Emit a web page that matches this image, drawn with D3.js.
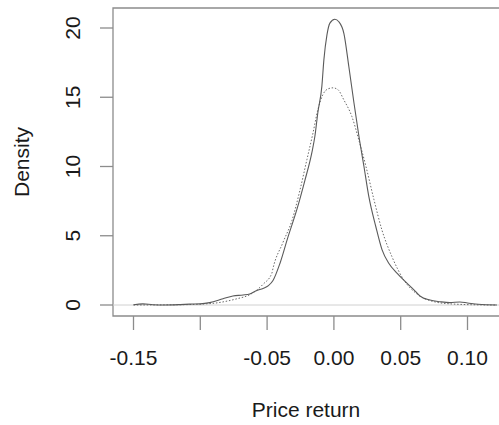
<!DOCTYPE html>
<html>
<head>
<meta charset="utf-8">
<script src="https://cdn.jsdelivr.net/npm/d3@7"></script>
<style>
	body { margin: 0; background: #fff; }
	text { font-family: "Liberation Sans", Arial, sans-serif; fill: #1a1a1a; }
</style>
</head>
<body>
<script>
// empirical density of price returns (solid)
var empX = [-0.150, -0.143, -0.1355, -0.1265, -0.115, -0.108, -0.100, -0.093, -0.083, -0.0756, -0.068, -0.063, -0.0576, -0.053, -0.049, -0.0457, -0.0404, -0.0344, -0.0277, -0.0217, -0.0165, -0.0142, -0.012, -0.009, -0.0075, -0.0052, -0.003, 0.0007, 0.0037, 0.0075, 0.0112, 0.015, 0.0187, 0.0225, 0.0262, 0.0314, 0.036, 0.0412, 0.0472, 0.0539, 0.0599, 0.0644, 0.0719, 0.0793, 0.0868, 0.0943, 0.100, 0.108, 0.122];
var empY = [0.02, 0.08, 0.02, 0.0, 0.03, 0.06, 0.08, 0.17, 0.45, 0.65, 0.72, 0.8, 1.05, 1.2, 1.4, 1.75, 3.0, 4.9, 6.9, 9.0, 11.0, 12.2, 13.9, 15.8, 17.7, 19.5, 20.35, 20.63, 20.45, 19.6, 17.2, 14.6, 12.2, 10.0, 7.8, 5.65, 4.0, 3.0, 2.3, 1.65, 1.1, 0.65, 0.36, 0.24, 0.17, 0.22, 0.15, 0.05, 0.0];

// normal reference density (dotted)
var normX = [-0.150, -0.115, -0.0906, -0.0816, -0.0726, -0.0629, -0.053, -0.0464, -0.0457, -0.0382, -0.0314, -0.0254, -0.0202, -0.0157, -0.012, -0.0082, -0.0045, -0.0007, 0.003, 0.0075, 0.0135, 0.0187, 0.024, 0.030, 0.036, 0.0434, 0.0524, 0.0621, 0.0749, 0.0891, 0.109, 0.122];
var normY = [0.0, 0.02, 0.12, 0.25, 0.45, 0.75, 1.5, 2.3, 2.6, 4.5, 6.1, 8.3, 10.5, 12.4, 14.1, 15.2, 15.6, 15.68, 15.55, 14.8, 13.6, 11.9, 10.0, 7.6, 5.4, 3.5, 1.8, 0.8, 0.24, 0.07, 0.01, 0.0];

var xTicks = [-0.15, -0.10, -0.05, 0.00, 0.05, 0.10];
var xTickLabels = ["-0.15", "", "-0.05", "0.00", "0.05", "0.10"];
var yTicks = [0, 5, 10, 15, 20];

var W = 499, H = 425;
var box = {left: 113, top: 8, right: 498, bottom: 316};

var svg = d3.select("body").append("svg")
	.attr("width", W)
	.attr("height", H);

// x: 0.05 -> ~66.8px, 0 at 334
var x = d3.scaleLinear()
	.domain([-0.15, 0.10])
	.range([133.5, 467.5]);
var y = d3.scaleLinear()
	.domain([0, 20])
	.range([305, 28]);

var axisCol = "#8c8c8c";

// frame (right side falls off the picture)
svg.append("path")
	.attr("d", "M" + W + "," + box.top + "H" + box.left + "V" + box.bottom + "H" + W)
	.attr("fill", "none")
	.attr("stroke", axisCol)
	.attr("stroke-width", 1.3);

// horizontal line at 0
svg.append("line")
	.attr("x1", box.left).attr("x2", W)
	.attr("y1", y(0)).attr("y2", y(0))
	.attr("stroke", "#d0d0d0")
	.attr("stroke-width", 1);

// y axis
var gy = svg.append("g");
gy.selectAll("line").data(yTicks).enter().append("line")
	.attr("x1", 100).attr("x2", box.left)
	.attr("y1", function(d){ return y(d); })
	.attr("y2", function(d){ return y(d); })
	.attr("stroke", axisCol).attr("stroke-width", 1.3);
gy.selectAll("text").data(yTicks).enter().append("text")
	.attr("transform", function(d){ return "translate(80," + y(d) + ")rotate(-90)"; })
	.attr("text-anchor", "middle")
	.style("font-size", "21px")
	.text(function(d){ return d; });

// x axis
var gx = svg.append("g");
gx.selectAll("line").data(xTicks).enter().append("line")
	.attr("x1", function(d){ return x(d); })
	.attr("x2", function(d){ return x(d); })
	.attr("y1", box.bottom).attr("y2", 330)
	.attr("stroke", axisCol).attr("stroke-width", 1.3);
gx.selectAll("text").data(xTicks).enter().append("text")
	.attr("x", function(d){ return x(d); })
	.attr("y", 365)
	.attr("text-anchor", "middle")
	.style("font-size", "21px")
	.text(function(d, i){ return xTickLabels[i]; });

// axis titles
svg.append("text")
	.attr("transform", "translate(29," + ((box.top + box.bottom) / 2) + ")rotate(-90)")
	.attr("text-anchor", "middle")
	.style("font-size", "21px")
	.text("Density");
svg.append("text")
	.attr("x", 306)
	.attr("y", 417)
	.attr("text-anchor", "middle")
	.style("font-size", "21px")
	.text("Price return");

var line = d3.line()
	.curve(d3.curveMonotoneX)
	.x(function(d){ return x(d[0]); })
	.y(function(d){ return y(d[1]); });

svg.append("path")
	.datum(d3.zip(normX, normY))
	.attr("d", line)
	.attr("fill", "none")
	.attr("stroke", "#6a6a6a")
	.attr("stroke-width", 1)
	.attr("stroke-dasharray", "1.5,1.8");

svg.append("path")
	.datum(d3.zip(empX, empY))
	.attr("d", line)
	.attr("fill", "none")
	.attr("stroke", "#5a5a5a")
	.attr("stroke-width", 1.1);
</script>
</body>
</html>
